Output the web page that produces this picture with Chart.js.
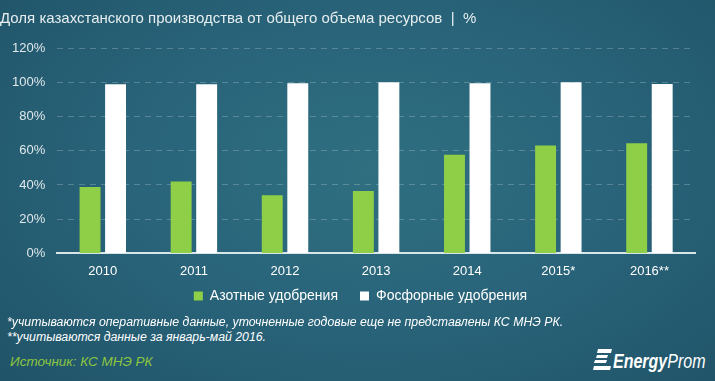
<!DOCTYPE html>
<html>
<head>
<meta charset="utf-8">
<script src="https://cdn.jsdelivr.net/npm/chart.js@4.4.1/dist/chart.umd.min.js"></script>
<style>
  html, body { margin: 0; padding: 0; }
  body {
    width: 715px; height: 381px; overflow: hidden; position: relative;
    background: radial-gradient(ellipse 75% 85% at 52% 45%, #2f6f80 0%, #29647a 45%, #1f5266 100%);
    font-family: "Liberation Sans", Arial, sans-serif;
  }
  #wrap { position: absolute; left: 0; top: 0; width: 715px; height: 327px; }
  .note { position: absolute; left: 7px; color: #ffffff; font-style: italic; font-size: 12.3px; white-space: nowrap; }
  #src { position: absolute; left: 10px; top: 354px; color: #8dc63f; font-style: italic; font-size: 13.5px; }
  #logo { position: absolute; left: 593px; top: 349px; width: 120px; height: 28px; color: #fff; font-style: italic; }
  #logo svg { position: absolute; left: 0; top: 0; }
  #logo span { position: absolute; left: 20px; top: 1px; white-space: nowrap; font-size: 20px;
               transform: scaleX(0.8); transform-origin: 0 0; }
  #logo b { font-weight: bold; }
</style>
</head>
<body>
<div id="wrap"><canvas id="chart" width="715" height="327"></canvas></div>
<div class="note" style="top:315px">*учитываются оперативные данные, уточненные годовые еще не представлены КС МНЭ РК.</div>
<div class="note" style="top:330px">**учитываются данные за январь-май 2016.</div>
<div id="src">Источник: КС МНЭ РК</div>
<div id="logo">
  <svg width="19" height="21" viewBox="0 0 19 21">
    <polygon points="5,0 19,0 18,4 4,4" fill="#fff"/>
    <polygon points="4,6 15,6 14,9 3,9" fill="#fff"/>
    <polygon points="2,11 14,11 13,14 1,14" fill="#fff"/>
    <polygon points="1,17 18,17 17,21 0,21" fill="#fff"/>
  </svg>
  <span><b>Energy</b>Prom</span>
</div>
<script>
const years = ["2010", "2011", "2012", "2013", "2014", "2015*", "2016**"];
const nitrogen = [38.8, 42, 34, 36.5, 57.6, 63, 64.4];
const phosphate = [98.8, 98.8, 99.4, 100, 99.4, 100, 99];
const yTicks = [0, 20, 40, 60, 80, 100, 120];

Chart.defaults.font.family = "'Liberation Sans', Arial, sans-serif";
Chart.defaults.color = "#dfe8ea";

// nudge the legend: a bit up towards the year labels, and centred on the plot
const legendMove = {
    id: "legendMove",
    afterLayout(chart) {
        chart.legend.top -= 14;
        chart.legend.bottom -= 14;
        chart.legend.left += 13;
        chart.legend.right += 13;
    }
};

const ctx = document.getElementById("chart").getContext("2d");
const chart = new Chart(ctx, {
    type: "bar",
    plugins: [legendMove],
    data: {
        labels: years,
        datasets: [
            {
                label: "Азотные удобрения",
                data: nitrogen,
                backgroundColor: "#8fcf47",
                categoryPercentage: 0.56,
                barPercentage: 0.82,
            },
            {
                label: "Фосфорные удобрения",
                data: phosphate,
                backgroundColor: "#ffffff",
                categoryPercentage: 0.56,
                barPercentage: 0.82,
            }
        ]
    },
    options: {
        responsive: false,
        animation: false,
        layout: { padding: { left: 0, right: 20, top: 0, bottom: 0 } },
        scales: {
            x: {
                grid: { display: false },
                border: { color: "#d8e6ea", width: 2 },
                ticks: { color: "#ffffff", font: { size: 13 }, padding: 2 },
            },
            y: {
                min: 0,
                max: 120,
                afterBuildTicks: axis => { axis.ticks = yTicks.map(v => ({ value: v })); },
                grid: { color: "rgba(255,255,255,0.22)", drawTicks: false },
                border: { display: false, dash: [6, 5] },
                ticks: {
                    color: "#dfe8ea",
                    font: { size: 13 },
                    padding: 12,
                    callback: v => v + "%",
                },
            }
        },
        plugins: {
            title: {
                display: true,
                text: "Доля казахстанского производства от общего объема ресурсов  |  %",
                align: "start",
                color: "#e6eef0",
                font: { size: 15, weight: "normal" },
                padding: { top: 10, bottom: 20 },
            },
            legend: {
                display: true,
                position: "bottom",
                labels: {
                    color: "#ffffff",
                    font: { size: 14 },
                    boxWidth: 9,
                    boxHeight: 9,
                    padding: 22,
                },
            },
            tooltip: { enabled: false },
        }
    }
});
</script>
</body>
</html>
